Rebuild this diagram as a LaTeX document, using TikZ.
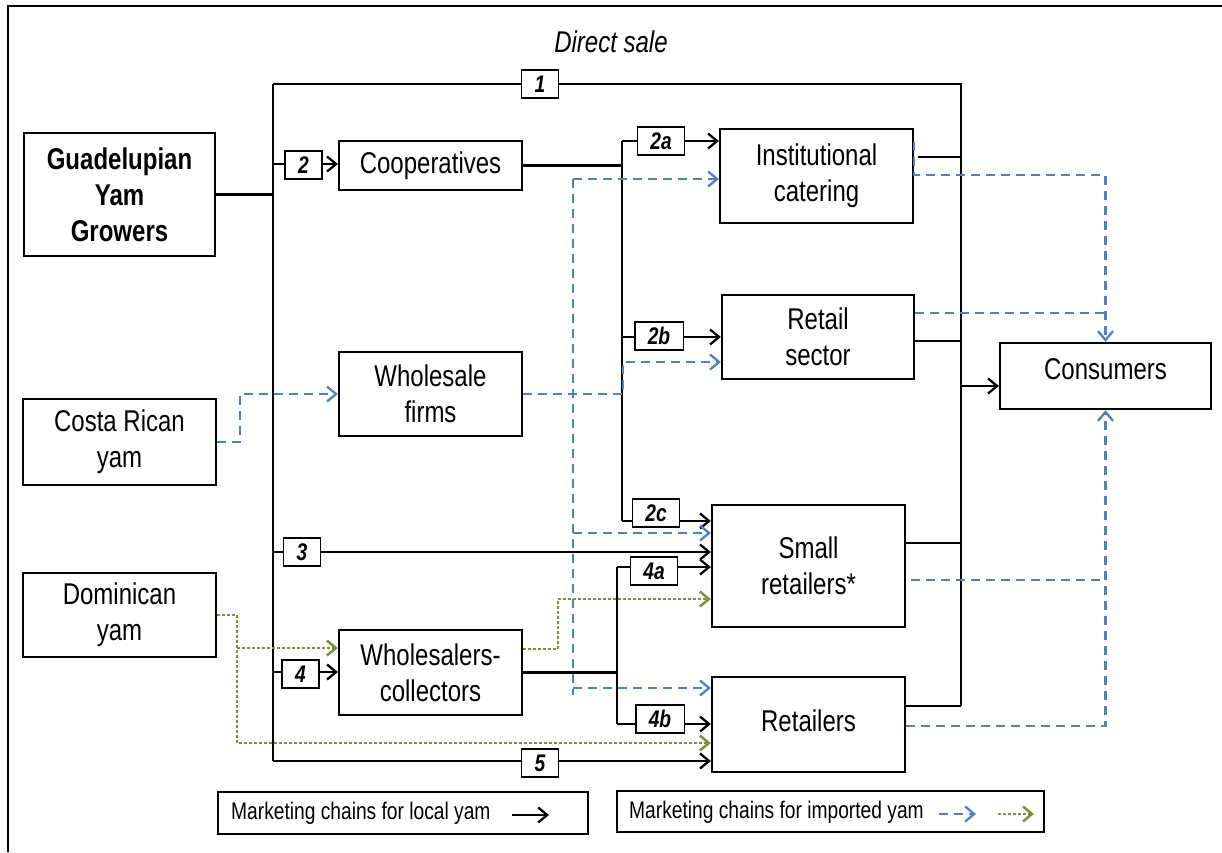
\documentclass[tikz,border=0pt]{standalone}
\usepackage{fontspec}
\setmainfont[FakeStretch=0.8]{Liberation Sans}
\usetikzlibrary{arrows.meta}
\definecolor{impblue}{RGB}{79,129,189}
\definecolor{impgreen}{RGB}{119,147,60}
\begin{document}
\begin{tikzpicture}[x=1pt,y=-1pt,
  box/.style={draw, line width=2.3pt, inner sep=0pt, align=center, font=\fontsize{30}{36}\selectfont},
  lab/.style={draw, line width=1.4pt, fill=white, inner xsep=13pt, inner ysep=0pt, minimum height=28pt, font=\fontsize{24}{28}\selectfont\bfseries\itshape},
  loc/.style={line width=2.3pt, black},
  arr/.style={-{Straight Barb[length=9pt,width=15pt]}},
  imp/.style={line width=2.3pt, impblue, dash pattern=on 9pt off 6pt},
  impg/.style={line width=2.5pt, impgreen, dash pattern=on 2.5pt off 2.5pt},
  legtext/.style={anchor=west, inner sep=0pt, font=\fontsize{24}{28}\selectfont}
]
\useasboundingbox (0,0) rectangle (1222,852);
\draw[line width=2.6pt] (8,852) -- (8,6) -- (1222,6);

% boxes
\node[box, minimum width=191pt, minimum height=123pt, font=\fontsize{30}{36}\selectfont\bfseries] (grow) at (119.5,194.5) {Guadelupian\\Yam\\Growers};
\node[box, minimum width=193pt, minimum height=86pt] (costa) at (119.5,442) {Costa Rican\\yam};
\node[box, minimum width=193pt, minimum height=84pt] (domin) at (119.5,615) {Dominican\\yam};
\node[box, minimum width=183pt, minimum height=49pt] (coop) at (430.5,165.5) {Cooperatives};
\node[box, minimum width=183pt, minimum height=84pt] (wsf) at (430.5,394) {Wholesale\\firms};
\node[box, minimum width=183pt, minimum height=85pt] (wsc) at (430.5,672.5) {Wholesalers-\\collectors};
\node[box, minimum width=193pt, minimum height=94pt] (inst) at (816.5,176) {Institutional\\catering};
\node[box, minimum width=192pt, minimum height=84pt] (rets) at (818,337) {Retail\\sector};
\node[box, minimum width=193pt, minimum height=122pt] (small) at (808.5,566) {Small\\retailers*};
\node[box, minimum width=193pt, minimum height=95pt, text height=21pt, text depth=8pt] (retl) at (808.5,724.5) {Retailers};
\node[box, minimum width=211pt, minimum height=66pt, text height=21pt, text depth=14pt] (cons) at (1105.5,376) {Consumers};
\node[font=\fontsize{30}{36}\selectfont\itshape] (ds) at (611,42) {Direct sale};

% junctions
\coordinate (bT) at (273,84);
\coordinate (bB) at (273,761);
\coordinate (rT) at (961,84);
\coordinate (rB) at (961,706);
\coordinate (j2) at (273,164);
\coordinate (j3) at (273,552);
\coordinate (j4) at (273,672);
\coordinate (s1T) at (622,141);
\coordinate (s1B) at (622,521);
\coordinate (s1b) at (622,337);
\coordinate (s2T) at (617,567);
\coordinate (s2B) at (617,724);
\coordinate (ri) at (961,157);
\coordinate (rr) at (961,341);
\coordinate (rs) at (961,543);
\coordinate (rc) at (961,386);

% local chains
\draw[loc] (grow.east) -- (grow.east -| bT);
\draw[loc] (bT) -- (bB);
\draw[loc] (bT) -- (rT) -- (rB);
\draw[loc,arr] (j2) -- (j2 -| coop.west);
\draw[loc] (coop.east) -- (coop.east -| s1T);
\draw[loc] (s1T) -- (s1B);
\draw[loc,arr] (s1T) -- (s1T -| inst.west);
\draw[loc,arr] (s1b) -- (s1b -| rets.west);
\draw[loc,arr] (s1B) -- (s1B -| small.west);
\draw[loc,arr] (j3) -- (j3 -| small.west);
\draw[loc,arr] (j4) -- (j4 -| wsc.west);
\draw[loc] (wsc.east) -- (wsc.east -| s2T);
\draw[loc] (s2T) -- (s2B);
\draw[loc,arr] (s2T) -- (s2T -| small.west);
\draw[loc,arr] (s2B) -- (s2B -| retl.west);
\draw[loc,arr] (bB) -- (bB -| retl.west);
\draw[loc] ([xshift=4pt]ri -| inst.east) -- (ri);
\draw[loc] (rr -| rets.east) -- (rr);
\draw[loc] (rs -| small.east) -- (rs);
\draw[loc] (rB -| retl.east) -- (rB);
\draw[loc,arr] (rc) -- (rc -| cons.west);

% imported: Costa Rica (blue)
\coordinate (cb1) at (240,442);
\coordinate (cb2) at (240,394);
\coordinate (wb1) at (623,394);
\coordinate (wb2) at (623,362);
\coordinate (vT) at (573,179);
\coordinate (vB) at (573,695);
\coordinate (vs) at (573,533);
\coordinate (vr) at (573,688);
\draw[imp,arr] (costa.east) -- (cb1) -- (cb2) -- (cb2 -| wsf.west);
\draw[imp,arr] (wsf.east) -- (wb1) -- (wb2) -- (wb2 -| rets.west);
\draw[imp] (vT) -- (vB);
\draw[imp,arr] (vT) -- (vT -| inst.west);
\draw[imp,arr] (vs) -- (vs -| small.west);
\draw[imp,arr] (vr) -- (vr -| retl.west);

\coordinate (ib0) at (914,142);
\coordinate (ib1) at (914,175);
\coordinate (ib2) at (1105.5,175);
\coordinate (rb) at (914,313);
\coordinate (sb) at (911,580);
\coordinate (tb) at (905,726);
\coordinate (tb2) at (1105.5,726);
\draw[imp,arr] (ib0) -- (ib1) -- (ib2) -- (cons.north);
\draw[imp] (rb -| rets.east) -- (rb -| ib2);
\draw[imp] (sb) -- (sb -| tb2);
\draw[imp,arr] (tb -| retl.east) -- (tb2) -- (cons.south);

% imported: Dominican (green)
\coordinate (g1) at (237,615);
\coordinate (g2) at (237,743);
\coordinate (g3) at (237,648);
\coordinate (g4) at (558,649);
\coordinate (g5) at (558,599);
\draw[impg,arr] (domin.east) -- (g1) -- (g2) -- (g2 -| retl.west);
\draw[impg,arr] (g3) -- (g3 -| wsc.west);
\draw[impg,arr] (g4 -| wsc.east) -- (g4) -- (g5) -- (g5 -| small.west);

% chain labels
\node[lab] (l1) at (540,84) {1};
\node[lab] (l2) at (303.5,165) {2};
\node[lab] (l2a) at (661,141) {2a};
\node[lab] (l2b) at (659,336) {2b};
\node[lab] (l2c) at (656,513) {2c};
\node[lab] (l3) at (302,552) {3};
\node[lab] (l4a) at (654,571) {4a};
\node[lab] (l4) at (300.5,674) {4};
\node[lab] (l4b) at (660,719) {4b};
\node[lab] (l5) at (540,763) {5};

% legend
\node[draw, line width=2.3pt, minimum width=370pt, minimum height=42pt, inner sep=0pt] (leg1) at (403,813) {};
\node[legtext] (leg1t) at (231,813) {Marketing chains for local yam};
\coordinate (la1) at (512,815);
\coordinate (la2) at (549,815);
\draw[loc,arr] (la1) -- (la2);
\node[draw, line width=2.3pt, minimum width=427pt, minimum height=41pt, inner sep=0pt] (leg2) at (830.5,811.5) {};
\node[legtext] (leg2t) at (629,812) {Marketing chains for imported yam};
\coordinate (lb1) at (939,814);
\coordinate (lb2) at (976,814);
\coordinate (lg1) at (998,814);
\coordinate (lg2) at (1034,814);
\draw[imp,arr] (lb1) -- (lb2);
\draw[impg,arr] (lg1) -- (lg2);
\end{tikzpicture}
\end{document}
